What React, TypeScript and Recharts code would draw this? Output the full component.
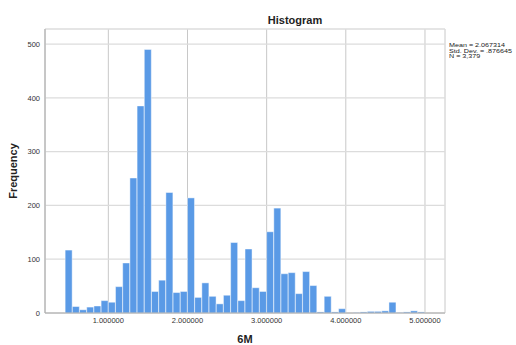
import {
  ComposedChart,
  Bar,
  XAxis,
  YAxis,
  CartesianGrid,
  Label,
} from "recharts";

// 6M histogram, 50 bins from SPSS output
const binStart = 0.4545;
const binWidth = 0.0909;
const frequencies = [
  117, 12, 6, 11, 13, 23, 20, 49, 93, 251,
  385, 490, 40, 61, 224, 38, 40, 214, 29, 56,
  31, 17, 33, 131, 23, 119, 47, 40, 151, 195,
  73, 75, 36, 77, 51, 2, 31, 2, 8, 0,
  1, 2, 3, 3, 4, 20, 1, 2, 4, 2,
];
const xTicks = [1, 2, 3, 4, 5];
const yTicks = [0, 100, 200, 300, 400, 500];
const statLines = ["Mean = 2.067314", "Std. Dev. = .876645", "N = 3,379"];

const data = frequencies.map((count, i) => ({
  mid: binStart + (i + 0.5) * binWidth,
  count,
}));

const font = "'Liberation Sans', Arial, sans-serif";

function FrequencyLabel() {
  return (
    <text
      x={13}
      y={171}
      transform="rotate(-90 13 171)"
      textAnchor="middle"
      dominantBaseline="central"
      fontFamily={font}
      fontSize={11}
      fontWeight="bold"
      fill="#222"
    >
      Frequency
    </text>
  );
}

export default function App() {
  return (
    <div
      style={{
        position: "absolute",
        left: 0,
        top: 0,
        width: 516,
        height: 345,
        overflow: "hidden",
        background: "#fff",
        fontFamily: font,
      }}
    >
      <div
        style={{
          position: "absolute",
          left: 295,
          top: 14,
          transform: "translateX(-50%)",
          fontSize: 11,
          lineHeight: "12px",
          fontWeight: "bold",
          color: "#222",
          whiteSpace: "nowrap",
        }}
      >
        Histogram
      </div>
      <div
        style={{
          position: "absolute",
          left: 449,
          top: 43,
          fontSize: 5.6,
          lineHeight: "5.6px",
          color: "#222",
          whiteSpace: "nowrap",
          transform: "scaleX(1.28)",
          transformOrigin: "left top",
        }}
      >
        {statLines.map((s) => (
          <div key={s}>{s}</div>
        ))}
      </div>
      <ComposedChart
        width={516}
        height={345}
        data={data}
        barCategoryGap={0}
        barGap={0}
        margin={{ top: 29, right: 71, left: 0, bottom: 12 }}
      >
        <CartesianGrid horizontal={false} stroke="#c8c8c8" />
        <CartesianGrid vertical={false} stroke="#dcdcdc" strokeWidth={1.3} />
        <XAxis
          dataKey="mid"
          type="number"
          domain={[0.2, 5.253]}
          ticks={xTicks}
          tickFormatter={(v: number) => v.toFixed(6)}
          height={20}
          tickSize={3}
          tickMargin={2}
          tickLine={false}
          stroke="#aaa"
          tick={{ fontSize: 7.5, fill: "#333", fontFamily: font }}
        >
          <Label
            value="6M"
            position="bottom"
            offset={2}
            fontSize={11}
            fontWeight="bold"
            fill="#222"
            fontFamily={font}
          />
        </XAxis>
        <YAxis
          type="number"
          domain={[0, 528]}
          ticks={yTicks}
          width={45}
          tickSize={3}
          tickMargin={2}
          tickLine={false}
          stroke="#aaa"
          tick={{ fontSize: 7.5, fill: "#333", fontFamily: font }}
        >
          <Label content={FrequencyLabel} />
        </YAxis>
        <Bar
          dataKey="count"
          fill="#5a9ae6"
          stroke="#ffffff"
          strokeOpacity={0.55}
          strokeWidth={0.8}
          isAnimationActive={false}
        />
      </ComposedChart>
    </div>
  );
}
